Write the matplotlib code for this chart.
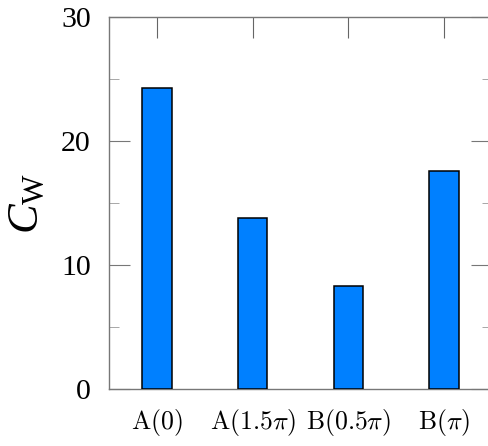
import matplotlib.pyplot as plt
import numpy as np

# data
categories = [r'$\mathrm{A}(0)$', r'$\mathrm{A}(1.5\pi)$', r'$\mathrm{B}(0.5\pi)$', r'$\mathrm{B}(\pi)$']
values = [24.3, 13.8, 8.3, 17.6]
y_ticks = [0, 10, 20, 30]
y_minor = [5, 15, 25]

plt.rcParams['font.family'] = 'Liberation Serif'
plt.rcParams['mathtext.fontset'] = 'custom'
plt.rcParams['mathtext.rm'] = 'Liberation Serif'
plt.rcParams['mathtext.it'] = 'Liberation Serif:italic'

fig = plt.figure(figsize=(4.88, 4.46), dpi=100)
ax = fig.add_axes([109/488, (446-389)/446, 383/488, 372/446])

x = np.arange(len(categories))
ax.bar(x, values, width=0.31, color='#0080ff', edgecolor='black', linewidth=1.1, zorder=3)

ax.set_xlim(-0.5, 3.5)
ax.set_ylim(0, 30)
ax.set_xticks(x)
ax.set_xticklabels(categories, fontsize=18.5, math_fontfamily='cm')
ax.set_yticks(y_ticks)
ax.set_yticks(y_minor, minor=True)
ax.tick_params(axis='y', labelsize=21.5)

ax.tick_params(axis='x', bottom=False, top=True, direction='in', length=15,
               color='#666666', pad=13)
ax.tick_params(axis='y', which='major', left=True, right=True, direction='in',
               length=15, color='#777777', pad=13)
ax.tick_params(axis='y', which='minor', left=True, right=True, direction='in',
               length=7, color='#999999')

for s in ax.spines.values():
    s.set_color('#777777')
    s.set_linewidth(1)

ax.set_ylabel(r'$C_\mathrm{W}$', fontsize=32, labelpad=10)

fig.savefig('out.png', dpi=100)
